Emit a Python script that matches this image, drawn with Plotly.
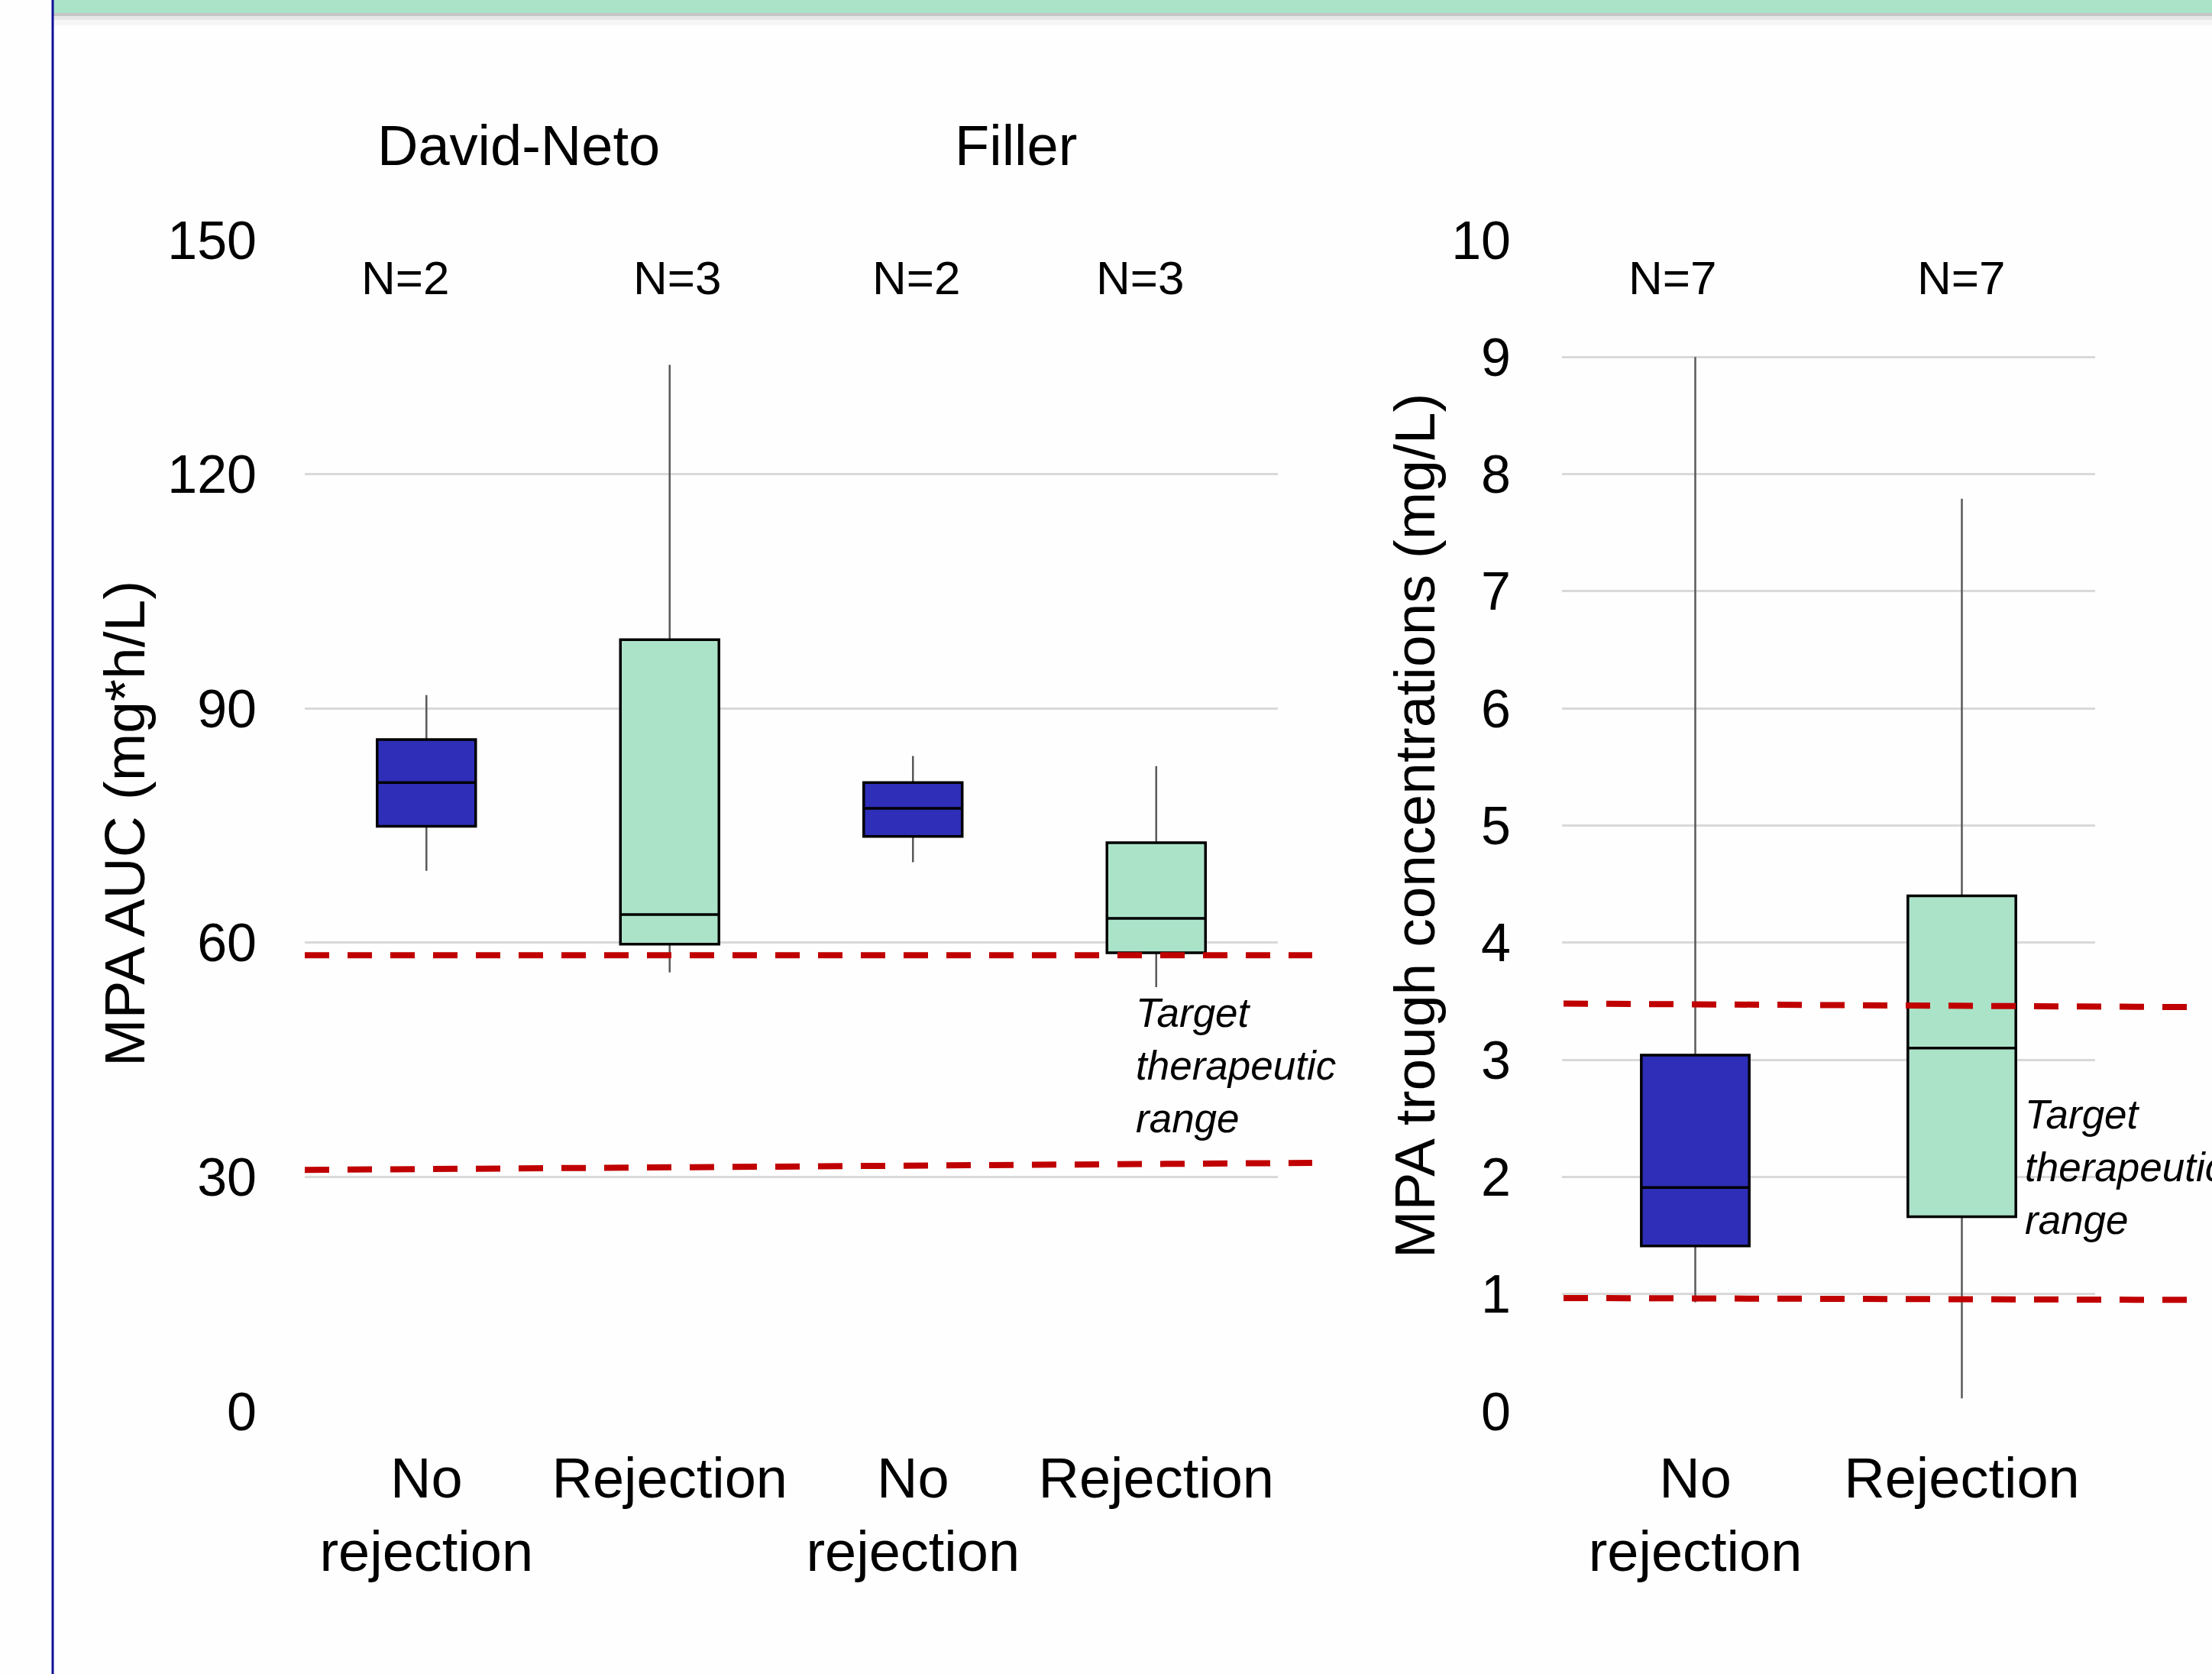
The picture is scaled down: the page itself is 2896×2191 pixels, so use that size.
import plotly.graph_objects as go

# ---------------- data ----------------
left_cats = ["DN_NR", "DN_R", "FI_NR", "FI_R"]
left_tick_text = ["No<br>rejection", "Rejection", "No<br>rejection", "Rejection"]
left_n = ["N=2", "N=3", "N=2", "N=3"]
study_names = ["David-Neto", "Filler"]

# MPA AUC (mg*h/L) box statistics, order = left_cats
auc_lower = [69.2, 56.2, 70.3, 54.3]
auc_q1 = [74.9, 59.8, 73.6, 58.7]
auc_median = [80.5, 63.6, 77.2, 63.1]
auc_q3 = [86.0, 98.8, 80.5, 72.8]
auc_upper = [91.7, 134.0, 83.9, 82.6]

right_cats = ["No rejection", "Rejection"]
right_tick_text = ["No<br>rejection", "Rejection"]
right_n = ["N=7", "N=7"]

# MPA trough concentrations (mg/L)
trough_lower = [0.93, 0.11]
trough_q1 = [1.41, 1.66]
trough_median = [1.91, 3.10]
trough_q3 = [3.04, 4.40]
trough_upper = [9.0, 7.79]

# target therapeutic range lines (value at left end, right end)
auc_target_high = [58.4, 58.4]
auc_target_low = [30.9, 31.8]
trough_target_high = [3.48, 3.45]
trough_target_low = [0.966, 0.95]
line_ends = [0, 1]

left_ticks = [0, 30, 60, 90, 120, 150]
right_ticks = list(range(0, 11))

# ---------------- style ----------------
FONT = "Liberation Sans, Arial, sans-serif"
BLUE = "#2E2EB8"
GREEN = "#ABE3C9"
RED = "#C00000"
GRID = "#D9D9D9"
W, H = 2896, 2191

fig = go.Figure()


def add_boxes(cats, lo, q1, med, q3, hi, idxs, color, xa, ya):
    xs = [cats[i] for i in idxs]
    # whiskers (gray)
    fig.add_trace(go.Box(
        x=xs, q1=[q1[i] for i in idxs], median=[med[i] for i in idxs],
        q3=[q3[i] for i in idxs], lowerfence=[lo[i] for i in idxs],
        upperfence=[hi[i] for i in idxs], width=0.405, whiskerwidth=0,
        fillcolor=color, line=dict(color="#595959", width=2.5),
        boxpoints=False, xaxis=xa, yaxis=ya, showlegend=False, hoverinfo="skip"))
    # box outline (black), no whiskers
    fig.add_trace(go.Box(
        x=xs, q1=[q1[i] for i in idxs], median=[med[i] for i in idxs],
        q3=[q3[i] for i in idxs], lowerfence=[q1[i] for i in idxs],
        upperfence=[q3[i] for i in idxs], width=0.405, whiskerwidth=0,
        fillcolor=color, line=dict(color="black", width=3.5),
        boxpoints=False, xaxis=xa, yaxis=ya, showlegend=False, hoverinfo="skip"))


add_boxes(left_cats, auc_lower, auc_q1, auc_median, auc_q3, auc_upper, [0, 2], BLUE, "x", "y")
add_boxes(left_cats, auc_lower, auc_q1, auc_median, auc_q3, auc_upper, [1, 3], GREEN, "x", "y")
add_boxes(right_cats, trough_lower, trough_q1, trough_median, trough_q3, trough_upper, [0], BLUE, "x2", "y2")
add_boxes(right_cats, trough_lower, trough_q1, trough_median, trough_q3, trough_upper, [1], GREEN, "x2", "y2")

# target range dashed lines on overlay subplots (wider than the grid)
for vals, xa, ya in [(auc_target_high, "x3", "y3"), (auc_target_low, "x3", "y3"),
                     (trough_target_high, "x4", "y4"), (trough_target_low, "x4", "y4")]:
    fig.add_trace(go.Scatter(x=line_ends, y=vals, mode="lines",
                             line=dict(color=RED, width=8, dash="32px,24px"),
                             xaxis=xa, yaxis=ya, showlegend=False, hoverinfo="skip"))

ydom = [1 - 1847 / H, 1 - 314 / H]
tickfont = dict(family=FONT, size=70, color="black")
catfont = dict(family=FONT, size=74, color="black")

fig.update_layout(
    template="none",
    width=W, height=H, margin=dict(l=0, r=0, t=0, b=0, pad=0, autoexpand=False),
    paper_bgcolor="#FEFEFE", plot_bgcolor="rgba(0,0,0,0)",
    boxmode="overlay", font=dict(family=FONT, color="black"),
    xaxis=dict(domain=[399 / W, 1673 / W], type="category", categoryarray=left_cats,
               tickvals=left_cats, ticktext=left_tick_text, tickfont=catfont,
               showgrid=False, zeroline=False, showline=False, ticks="", automargin=False,
               ticklabelstandoff=38, range=[-0.5, 3.5]),
    yaxis=dict(domain=ydom, range=[0, 150], tickvals=left_ticks, tickfont=tickfont,
               showgrid=True, gridcolor=GRID, gridwidth=3, zeroline=False, automargin=False,
               showline=False, ticks="", ticklabelstandoff=62),
    xaxis2=dict(domain=[2045 / W, 2743 / W], type="category", categoryarray=right_cats,
                tickvals=right_cats, ticktext=right_tick_text, tickfont=catfont,
                showgrid=False, zeroline=False, showline=False, ticks="", automargin=False,
                ticklabelstandoff=38, range=[-0.5, 1.5], anchor="y2"),
    yaxis2=dict(domain=ydom, range=[0, 10], tickvals=right_ticks, tickfont=tickfont,
                showgrid=True, gridcolor=GRID, gridwidth=3, zeroline=False, automargin=False,
                showline=False, ticks="", ticklabelstandoff=66, anchor="x2"),
    xaxis3=dict(domain=[399 / W, 1718 / W], range=line_ends, visible=False, anchor="y3",
                automargin=False),
    yaxis3=dict(domain=ydom, range=[0, 150], visible=False, anchor="x3", automargin=False),
    xaxis4=dict(domain=[2047 / W, 2863 / W], range=line_ends, visible=False, anchor="y4",
                automargin=False),
    yaxis4=dict(domain=ydom, range=[0, 10], visible=False, anchor="x4", automargin=False),
)

ann = []
# study headers
for name, xp in zip(study_names, [679, 1330]):
    ann.append(dict(text=name, x=xp / W, y=1 - 190 / H, xref="paper", yref="paper",
                    showarrow=False, font=dict(family=FONT, size=74, color="black"),
                    xanchor="center", yanchor="middle"))
# N labels
for txt, xp in zip(left_n + right_n, [530, 887, 1199, 1492, 2189, 2567]):
    ann.append(dict(text=txt, x=xp / W, y=1 - 364 / H, xref="paper", yref="paper",
                    showarrow=False, font=dict(family=FONT, size=62, color="black"),
                    xanchor="center", yanchor="middle"))
# axis titles
ann.append(dict(text="MPA AUC (mg*h/L)", x=163 / W, y=1 - 1078 / H, xref="paper", yref="paper",
                showarrow=False, textangle=-90, font=dict(family=FONT, size=75, color="black"),
                xanchor="center", yanchor="middle"))
ann.append(dict(text="MPA trough concentrations (mg/L)", x=1852 / W, y=1 - 1081 / H,
                xref="paper", yref="paper", showarrow=False, textangle=-90,
                font=dict(family=FONT, size=75, color="black"),
                xanchor="center", yanchor="middle"))
# target range labels
for xp, yp in [(1485, 1394), (2649, 1527)]:
    ann.append(dict(text="<i>Target<br>therapeutic<br>range</i>", x=xp / W, y=1 - yp / H,
                    xref="paper", yref="paper", showarrow=False, align="left",
                    font=dict(family=FONT, size=53, color="black"),
                    xanchor="left", yanchor="middle"))
fig.update_layout(annotations=ann)

# slide decoration: green banner with shadow, navy left rule
shapes = [
    dict(type="rect", xref="paper", yref="paper", x0=70 / W, x1=1, y0=1 - 17 / H, y1=1,
         fillcolor=GREEN, line=dict(width=0), layer="above"),
    dict(type="rect", xref="paper", yref="paper", x0=70 / W, x1=1, y0=1 - 21 / H, y1=1 - 17 / H,
         fillcolor="rgba(0,0,0,0.22)", line=dict(width=0)),
    dict(type="rect", xref="paper", yref="paper", x0=70 / W, x1=1, y0=1 - 26 / H, y1=1 - 21 / H,
         fillcolor="rgba(0,0,0,0.09)", line=dict(width=0)),
    dict(type="rect", xref="paper", yref="paper", x0=70 / W, x1=1, y0=1 - 33 / H, y1=1 - 26 / H,
         fillcolor="rgba(0,0,0,0.03)", line=dict(width=0)),
    dict(type="line", xref="paper", yref="paper", x0=69 / W, x1=69 / W, y0=0, y1=1,
         line=dict(color="#10109A", width=3)),
]
fig.update_layout(shapes=shapes)

fig.write_html("out.html", config={"displayModeBar": False},
               post_script="document.body.style.margin='0';document.body.style.overflow='hidden';")
